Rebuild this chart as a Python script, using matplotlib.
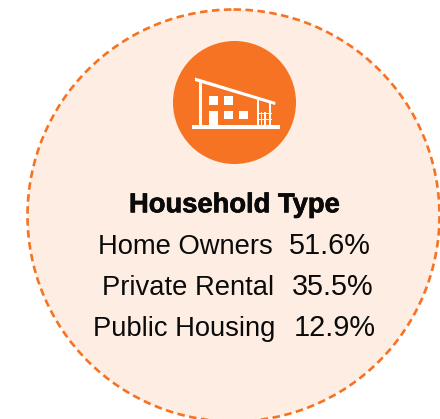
import matplotlib
matplotlib.use("Agg")
import matplotlib.pyplot as plt
import matplotlib.patheffects as pe
from matplotlib.patches import Circle, Rectangle, Polygon

title = "Household Type"
categories = ["Home Owners", "Private Rental", "Public Housing"]
values = [51.6, 35.5, 12.9]

ORANGE = "#F57322"
PEACH = "#FEEDE3"
INK = "#0A0A0A"
plt.rcParams["font.family"] = ["Liberation Sans", "DejaVu Sans"]

fig = plt.figure(figsize=(4.40, 4.19), dpi=100)
ax = fig.add_axes([0, 0, 1, 1])
ax.set_xlim(0, 440)
ax.set_ylim(419, 0)
ax.axis("off")

ax.add_patch(Circle((233.5, 215.5), 206, fc=PEACH, ec=ORANGE, lw=1.9,
                    ls=(0, (2.85, 1.7))))
ax.add_patch(Circle((234.5, 102.5), 61.5, fc=ORANGE, ec="none"))

W = "white"
def rect(x0, y0, x1, y1):
    ax.add_patch(Rectangle((x0, y0), x1 - x0, y1 - y0, fc=W, ec="none"))

ax.add_patch(Polygon([(195, 77.5), (275.5, 102), (275, 105), (195, 81)], fc=W, ec="none"))
rect(198.5, 80, 201.5, 127)
rect(192, 125, 280, 128.5)
rect(256.5, 100, 258.5, 127)
rect(268.5, 103, 270.5, 127)
for a, b in [(209.3, 218), (224.3, 233)]:
    rect(a, 96.3, b, 105)
rect(224.3, 111, 233, 119.3)
rect(239.3, 111, 248, 119.3)
rect(209.3, 111, 218, 125)
for x in [261.5, 265]:
    rect(x - 0.7, 112, x + 0.7, 125)
rect(259, 113.3, 271.5, 114.5)
rect(259, 118.5, 271.5, 119.7)

ax.text(234.5, 212.3, title, ha="center", va="baseline", fontsize=19.7,
        fontweight="bold", color=INK,
        path_effects=[pe.withStroke(linewidth=0.5, foreground=INK)])

label_x = [97.5, 102.5, 93]
value_x = [288.5, 291.5, 294]
rows_y = [254, 295, 335.5]
for name, val, lx, vx, y in zip(categories, values, label_x, value_x, rows_y):
    ax.text(lx, y, name, ha="left", va="baseline", fontsize=19.7, color=INK)
    ax.text(vx, y, f"{val:.1f}%", ha="left", va="baseline", fontsize=20.8, color=INK)

fig.savefig("out.png", dpi=100)
